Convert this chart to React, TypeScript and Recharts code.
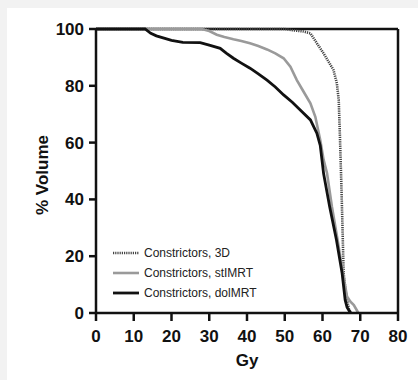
import { LineChart, Line, XAxis, YAxis, ReferenceLine } from "recharts";

// dose (Gy) and % volume
const dose3D = [0, 50, 52, 55, 56.8, 58.5, 60.3, 61.6, 62.9, 63.8, 64.3, 64.6, 65, 65.3, 65.6, 66.1, 66.6, 67, 67.6];
const vol3D = [100, 100, 99.6, 99.1, 98.5, 95, 91.4, 88.5, 85.6, 80.9, 75, 63, 45, 30, 14, 8, 4, 1.5, 0];

const doseSt = [0, 28, 30, 32, 34, 36.4, 38.5, 40.8, 43, 45.3, 47.5, 49.7, 51.5, 53.2, 55, 56.8, 58.1, 59.4, 60.3, 61.2, 62.5, 64, 65.4, 66.5, 67.4, 68.3, 69.5];
const volSt = [100, 100, 99.3, 98, 97.2, 96.4, 95.8, 95, 94, 92.8, 91.4, 89.7, 86.7, 82, 77.9, 73.8, 69.1, 60.9, 53.9, 49.2, 37.4, 25.7, 14, 5.8, 4, 2.8, 0];

const doseDol = [0, 13, 14.5, 16, 18, 20, 23, 27.6, 30, 32.9, 34.5, 36.4, 38.5, 40.8, 43, 45.3, 47.5, 49.7, 52, 54.1, 56.8, 58.5, 59.4, 60.3, 61.9, 63.7, 65.2, 66, 66.5, 67.4];
const volDol = [100, 100, 98.5, 97.6, 96.8, 96, 95.3, 95.2, 94.3, 93.2, 91.5, 89.7, 88, 86.2, 84.2, 82, 79.6, 76.8, 74.2, 71.5, 68, 63.3, 59, 49, 37.4, 25.7, 14, 4.6, 2, 0];

const xTicks = [0, 10, 20, 30, 40, 50, 60, 70, 80];
const yTicks = [0, 20, 40, 60, 80, 100];

const series = [
  { name: "Constrictors, 3D", dose: dose3D, vol: vol3D, color: "#444", width: 2.6, dash: "1.2 1" },
  { name: "Constrictors, stIMRT", dose: doseSt, vol: volSt, color: "#9a9a9a", width: 2.6, dash: undefined },
  { name: "Constrictors, dolMRT", dose: doseDol, vol: volDol, color: "#111", width: 2.8, dash: undefined },
];

const toRows = (d: number[], v: number[]) => d.map((x, i) => ({ x, v: v[i] }));

const font = "'Liberation Sans', Arial, sans-serif";
const tickStyle = { fontSize: 17, fontWeight: 700, fill: "#111", fontFamily: font };

export default function App() {
  return (
    <div style={{ position: "fixed", left: 0, top: 0, width: 418, height: 380, background: "#f2f2f2" }}>
      <div style={{ position: "absolute", left: 7, top: 8, width: 411, height: 372, background: "#fff" }}>
        <LineChart width={411} height={372} margin={{ top: 21, right: 20, bottom: 0, left: 0 }}>
          <XAxis
            type="number"
            dataKey="x"
            domain={[0, 80]}
            ticks={xTicks}
            allowDataOverflow
            height={67}
            stroke="#111"
            strokeWidth={2.5}
            tickSize={8}
            tickMargin={9}
            tick={tickStyle}
            label={{ value: "Gy", position: "insideBottom", offset: 14, style: { ...tickStyle, fontSize: 17 } }}
          />
          <YAxis
            type="number"
            dataKey="v"
            domain={[0, 100]}
            ticks={yTicks}
            width={89}
            stroke="#111"
            strokeWidth={2.5}
            tickSize={7}
            tickMargin={5}
            tick={tickStyle}
            label={{
              content: () => (
                <text
                  x={35}
                  y={167}
                  transform="rotate(-90 35 167)"
                  textAnchor="middle"
                  dominantBaseline="central"
                  style={{ ...tickStyle, fontSize: 17 }}
                >
                  % Volume
                </text>
              ),
            }}
          />
          <ReferenceLine y={100} stroke="#111" strokeWidth={2.5} ifOverflow="visible" />
          <ReferenceLine x={80} stroke="#111" strokeWidth={2.5} ifOverflow="visible" />
          {series.map((s) => (
            <Line
              key={s.name}
              data={toRows(s.dose, s.vol)}
              dataKey="v"
              type="linear"
              stroke={s.color}
              strokeWidth={s.width}
              strokeDasharray={s.dash}
              dot={false}
              isAnimationActive={false}
            />
          ))}
        </LineChart>
        <div style={{ position: "absolute", left: 106, top: 235, fontFamily: font, fontSize: 12, color: "#222" }}>
          {series.map((s) => (
            <div key={s.name} style={{ display: "flex", alignItems: "center", height: 20 }}>
              <svg width={26} height={6} style={{ marginRight: 5 }}>
                <line x1={0} y1={3} x2={26} y2={3} stroke={s.color} strokeWidth={s.width} strokeDasharray={s.dash} />
              </svg>
              <span>{s.name}</span>
            </div>
          ))}
        </div>
      </div>
    </div>
  );
}
